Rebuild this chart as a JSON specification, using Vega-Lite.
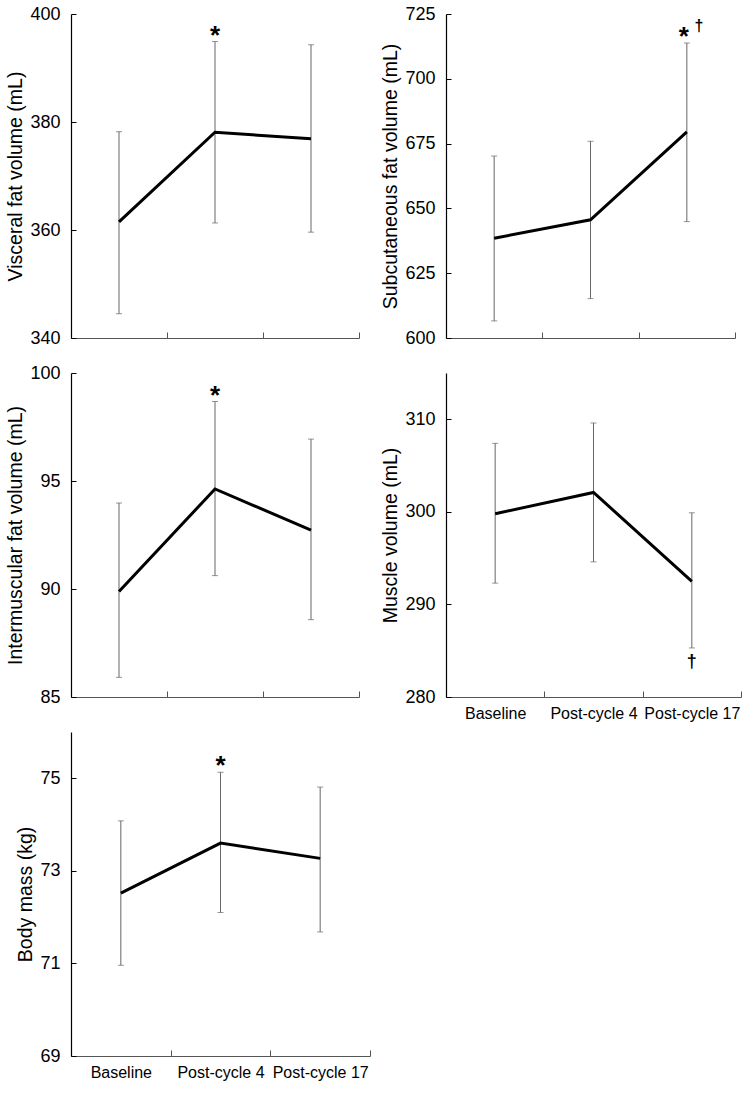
{
  "$schema": "https://vega.github.io/schema/vega-lite/v6.json",
  "background": "white",
  "padding": {"left": 5, "top": 5, "right": 5, "bottom": 5},
  "config": {
    "font": "Liberation Sans",
    "view": {"stroke": null},
    "axis": {"grid": false},
    "axisX": {"domainColor": "#555", "tickColor": "#555", "tickSize": -6, "tickBand": "extent", "labelFontSize": 16, "labelColor": "black", "labelPadding": 14, "labelAngle": 0, "title": null, "domainWidth": 1},
    "axisY": {"domainColor": "black", "tickColor": "black", "tickSize": -5, "labelFontSize": 18, "labelColor": "black", "labelPadding": 16, "titleFontSize": 19.5, "titleFontWeight": "normal", "titleColor": "black", "titlePadding": 4, "domainWidth": 1.2}
  },
  "data": {"values": [
    {"panel": "visceral", "time": "Baseline", "mean": 361.5, "lo": 344.5, "hi": 378.2, "star": "", "dagger": ""},
    {"panel": "visceral", "time": "Post-cycle 4", "mean": 378.1, "lo": 361.3, "hi": 394.9, "star": "*", "dagger": ""},
    {"panel": "visceral", "time": "Post-cycle 17", "mean": 376.9, "lo": 359.6, "hi": 394.3, "star": "", "dagger": ""},
    {"panel": "subcutaneous", "time": "Baseline", "mean": 638.5, "lo": 606.6, "hi": 670.2, "star": "", "dagger": ""},
    {"panel": "subcutaneous", "time": "Post-cycle 4", "mean": 645.6, "lo": 615.2, "hi": 675.9, "star": "", "dagger": ""},
    {"panel": "subcutaneous", "time": "Post-cycle 17", "mean": 679.5, "lo": 644.9, "hi": 713.8, "star": "*", "dagger": "above"},
    {"panel": "intermuscular", "time": "Baseline", "mean": 89.88, "lo": 85.91, "hi": 93.98, "star": "", "dagger": ""},
    {"panel": "intermuscular", "time": "Post-cycle 4", "mean": 94.63, "lo": 90.62, "hi": 98.68, "star": "*", "dagger": ""},
    {"panel": "intermuscular", "time": "Post-cycle 17", "mean": 92.73, "lo": 88.58, "hi": 96.94, "star": "", "dagger": ""},
    {"panel": "muscle", "time": "Baseline", "mean": 299.8, "lo": 292.3, "hi": 307.4, "star": "", "dagger": ""},
    {"panel": "muscle", "time": "Post-cycle 4", "mean": 302.1, "lo": 294.6, "hi": 309.6, "star": "", "dagger": ""},
    {"panel": "muscle", "time": "Post-cycle 17", "mean": 292.5, "lo": 285.3, "hi": 299.9, "star": "", "dagger": "below"},
    {"panel": "body", "time": "Baseline", "mean": 72.52, "lo": 70.96, "hi": 74.08, "star": "", "dagger": ""},
    {"panel": "body", "time": "Post-cycle 4", "mean": 73.6, "lo": 72.1, "hi": 75.13, "star": "*", "dagger": ""},
    {"panel": "body", "time": "Post-cycle 17", "mean": 73.27, "lo": 71.68, "hi": 74.81, "star": "", "dagger": ""}
  ]},
  "bounds": "flush",
  "columns": 2,
  "spacing": {"row": 35, "column": 76},
  "concat": [
    {
      "width": 288, "height": 324,
      "transform": [{"filter": "datum.panel === 'visceral'"}],
      "encoding": {"x": {"field": "time", "type": "nominal", "sort": null, "scale": {"type": "band", "domain": ["Baseline", "Post-cycle 4", "Post-cycle 17"], "paddingInner": 0, "paddingOuter": 0}, "axis": {"labels": false}}},
      "layer": [
        {"mark": {"type": "rule", "color": "#666", "strokeWidth": 1}, "encoding": {"y": {"field": "lo", "type": "quantitative", "scale": {"domain": [340, 400], "nice": false, "zero": false}, "axis": {"values": [340, 360, 380, 400], "title": "Visceral fat volume (mL)"}}, "y2": {"field": "hi"}}},
        {"mark": {"type": "tick", "color": "#666", "size": 6, "thickness": 1}, "encoding": {"y": {"field": "lo", "type": "quantitative"}}},
        {"mark": {"type": "tick", "color": "#666", "size": 6, "thickness": 1}, "encoding": {"y": {"field": "hi", "type": "quantitative"}}},
        {"mark": {"type": "line", "color": "black", "strokeWidth": 3}, "encoding": {"y": {"field": "mean", "type": "quantitative"}}},
        {"transform": [{"filter": "datum.star !== ''"}], "mark": {"type": "text", "fontSize": 26, "fontWeight": "bold", "baseline": "alphabetic", "align": "center", "dy": 2, "color": "black"}, "encoding": {"y": {"field": "hi", "type": "quantitative"}, "text": {"field": "star"}}}
      ]
    },
    {
      "width": 289, "height": 324,
      "transform": [{"filter": "datum.panel === 'subcutaneous'"}],
      "encoding": {"x": {"field": "time", "type": "nominal", "sort": null, "scale": {"type": "band", "domain": ["Baseline", "Post-cycle 4", "Post-cycle 17"], "paddingInner": 0, "paddingOuter": 0}, "axis": {"labels": false}}},
      "layer": [
        {"mark": {"type": "rule", "color": "#666", "strokeWidth": 1}, "encoding": {"y": {"field": "lo", "type": "quantitative", "scale": {"domain": [600, 725], "nice": false, "zero": false}, "axis": {"values": [600, 625, 650, 675, 700, 725], "title": "Subcutaneous fat volume (mL)"}}, "y2": {"field": "hi"}}},
        {"mark": {"type": "tick", "color": "#666", "size": 6, "thickness": 1}, "encoding": {"y": {"field": "lo", "type": "quantitative"}}},
        {"mark": {"type": "tick", "color": "#666", "size": 6, "thickness": 1}, "encoding": {"y": {"field": "hi", "type": "quantitative"}}},
        {"mark": {"type": "line", "color": "black", "strokeWidth": 3}, "encoding": {"y": {"field": "mean", "type": "quantitative"}}},
        {"transform": [{"filter": "datum.star !== ''"}], "mark": {"type": "text", "fontSize": 26, "fontWeight": "bold", "baseline": "alphabetic", "align": "center", "dx": -3, "dy": 2, "color": "black"}, "encoding": {"y": {"field": "hi", "type": "quantitative"}, "text": {"field": "star"}}},
        {"transform": [{"filter": "datum.dagger === 'above'"}], "mark": {"type": "text", "fontSize": 16, "fontWeight": "bold", "baseline": "alphabetic", "align": "center", "dx": 12, "dy": -12, "color": "black"}, "encoding": {"y": {"field": "hi", "type": "quantitative"}, "text": {"value": "†"}}}
      ]
    },
    {
      "width": 288, "height": 324,
      "transform": [{"filter": "datum.panel === 'intermuscular'"}],
      "encoding": {"x": {"field": "time", "type": "nominal", "sort": null, "scale": {"type": "band", "domain": ["Baseline", "Post-cycle 4", "Post-cycle 17"], "paddingInner": 0, "paddingOuter": 0}, "axis": {"labels": false}}},
      "layer": [
        {"mark": {"type": "rule", "color": "#666", "strokeWidth": 1}, "encoding": {"y": {"field": "lo", "type": "quantitative", "scale": {"domain": [85, 100], "nice": false, "zero": false}, "axis": {"values": [85, 90, 95, 100], "title": "Intermuscular fat volume (mL)"}}, "y2": {"field": "hi"}}},
        {"mark": {"type": "tick", "color": "#666", "size": 6, "thickness": 1}, "encoding": {"y": {"field": "lo", "type": "quantitative"}}},
        {"mark": {"type": "tick", "color": "#666", "size": 6, "thickness": 1}, "encoding": {"y": {"field": "hi", "type": "quantitative"}}},
        {"mark": {"type": "line", "color": "black", "strokeWidth": 3}, "encoding": {"y": {"field": "mean", "type": "quantitative"}}},
        {"transform": [{"filter": "datum.star !== ''"}], "mark": {"type": "text", "fontSize": 26, "fontWeight": "bold", "baseline": "alphabetic", "align": "center", "dy": 2, "color": "black"}, "encoding": {"y": {"field": "hi", "type": "quantitative"}, "text": {"field": "star"}}}
      ]
    },
    {
      "width": 295, "height": 324,
      "transform": [{"filter": "datum.panel === 'muscle'"}],
      "encoding": {"x": {"field": "time", "type": "nominal", "sort": null, "scale": {"type": "band", "domain": ["Baseline", "Post-cycle 4", "Post-cycle 17"], "paddingInner": 0, "paddingOuter": 0}}},
      "layer": [
        {"mark": {"type": "rule", "color": "#666", "strokeWidth": 1}, "encoding": {"y": {"field": "lo", "type": "quantitative", "scale": {"domain": [280, 315], "nice": false, "zero": false}, "axis": {"values": [280, 290, 300, 310], "title": "Muscle volume (mL)"}}, "y2": {"field": "hi"}}},
        {"mark": {"type": "tick", "color": "#666", "size": 6, "thickness": 1}, "encoding": {"y": {"field": "lo", "type": "quantitative"}}},
        {"mark": {"type": "tick", "color": "#666", "size": 6, "thickness": 1}, "encoding": {"y": {"field": "hi", "type": "quantitative"}}},
        {"mark": {"type": "line", "color": "black", "strokeWidth": 3}, "encoding": {"y": {"field": "mean", "type": "quantitative"}}},
        {"transform": [{"filter": "datum.dagger === 'below'"}], "mark": {"type": "text", "fontSize": 18, "fontWeight": "bold", "baseline": "top", "align": "center", "dy": 5, "color": "black"}, "encoding": {"y": {"field": "lo", "type": "quantitative"}, "text": {"value": "†"}}}
      ]
    },
    {
      "width": 299, "height": 324,
      "transform": [{"filter": "datum.panel === 'body'"}],
      "encoding": {"x": {"field": "time", "type": "nominal", "sort": null, "scale": {"type": "band", "domain": ["Baseline", "Post-cycle 4", "Post-cycle 17"], "paddingInner": 0, "paddingOuter": 0}}},
      "layer": [
        {"mark": {"type": "rule", "color": "#666", "strokeWidth": 1}, "encoding": {"y": {"field": "lo", "type": "quantitative", "scale": {"domain": [69, 76], "nice": false, "zero": false}, "axis": {"values": [69, 71, 73, 75], "title": "Body mass (kg)"}}, "y2": {"field": "hi"}}},
        {"mark": {"type": "tick", "color": "#666", "size": 6, "thickness": 1}, "encoding": {"y": {"field": "lo", "type": "quantitative"}}},
        {"mark": {"type": "tick", "color": "#666", "size": 6, "thickness": 1}, "encoding": {"y": {"field": "hi", "type": "quantitative"}}},
        {"mark": {"type": "line", "color": "black", "strokeWidth": 3}, "encoding": {"y": {"field": "mean", "type": "quantitative"}}},
        {"transform": [{"filter": "datum.star !== ''"}], "mark": {"type": "text", "fontSize": 26, "fontWeight": "bold", "baseline": "alphabetic", "align": "center", "dy": 2, "color": "black"}, "encoding": {"y": {"field": "hi", "type": "quantitative"}, "text": {"field": "star"}}}
      ]
    }
  ]
}
